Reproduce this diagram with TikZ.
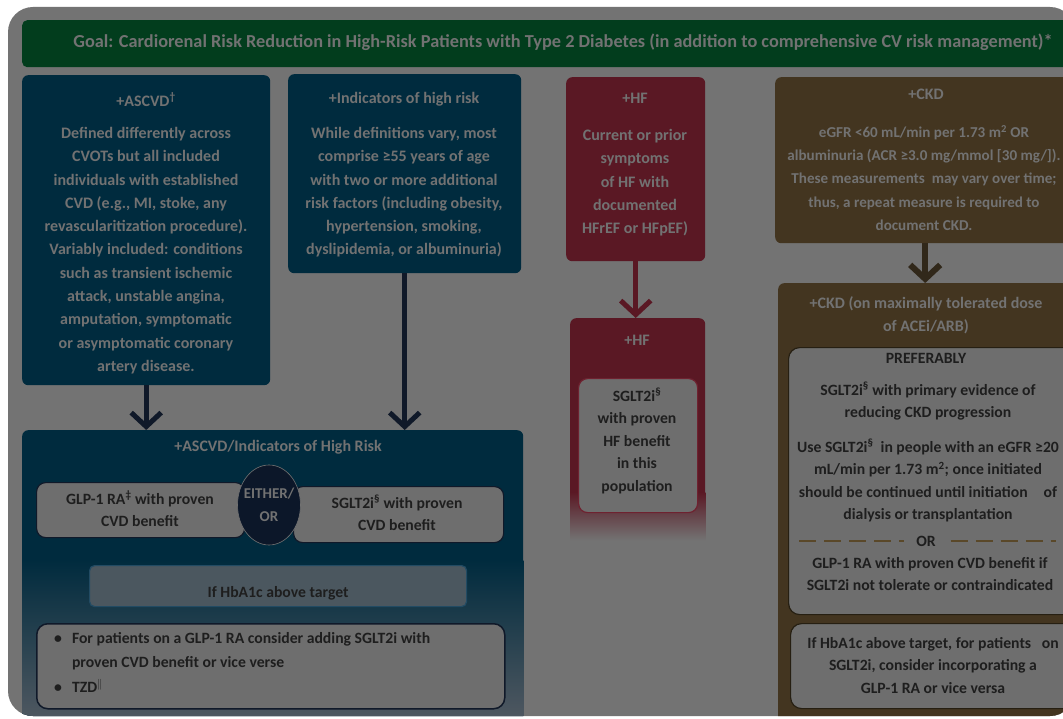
\documentclass[tikz,border=0pt]{standalone}
\usepackage{fontspec}
\setmainfont{Carlito}
\usetikzlibrary{arrows.meta,positioning,shapes.geometric}
\definecolor{panel}{HTML}{737373}
\definecolor{goal}{HTML}{023D1D}
\definecolor{navy}{HTML}{002B3E}
\definecolor{hfred}{HTML}{5A1824}
\definecolor{ckdbrown}{HTML}{433520}
\definecolor{dimtxt}{HTML}{727272}
\definecolor{darktxt}{HTML}{1E1E1E}
\definecolor{navyarrow}{HTML}{101929}
\definecolor{ckdarrow}{HTML}{31281A}
\definecolor{lightbox}{HTML}{6E6E6E}
\definecolor{hbabox}{HTML}{4B575F}
\definecolor{hbaline}{HTML}{224B63}
\definecolor{eitherfill}{HTML}{0C1729}
\definecolor{combobottom}{HTML}{4E5760}
\definecolor{hfline}{HTML}{6E2230}
\definecolor{ckdline}{HTML}{261F12}
\definecolor{ckddashc}{HTML}{5A4829}

\begin{document}
\begin{tikzpicture}[x=1pt,y=-1pt,
  bigbox/.style={rounded corners=6pt,inner sep=0pt,anchor=north west},
  innerbox/.style={rounded corners=9pt,fill=lightbox,inner sep=0pt,anchor=north west,line width=1.2pt},
  hdtxt/.style={text=dimtxt,font=\bfseries\fontsize{16}{23.3}\selectfont,align=center,inner sep=0pt,anchor=north},
  intxt/.style={text=darktxt,font=\bfseries\fontsize{15.7}{22.5}\selectfont,align=center,inner sep=0pt,anchor=north},
  fatarrow/.style={line width=5pt,-{Straight Barb[length=14pt,width=30pt]}},
  ckddash/.style={ckddashc,line width=2pt,dash pattern=on 17pt off 8pt}]

\fill[white] (0,0) rectangle (1063,719);
\useasboundingbox (0,0) rectangle (1063,719);
\fill[panel,rounded corners=25pt] (8,7) rectangle (1075,716);

\begin{scope}
\clip[rounded corners=25pt] (8,7) rectangle (1075,716);

\node[bigbox,fill=goal,minimum width=1060pt,minimum height=47pt,rounded corners=5pt] (goal) at (22,20) {};
\node[hdtxt,font=\bfseries\fontsize{18.3}{20}\selectfont] (goaltxt) at (563,34) {Goal: Cardiorenal Risk Reduction in High-Risk Patients with Type 2 Diabetes (in addition to comprehensive CV risk management)*};

\node[bigbox,fill=navy,minimum width=248pt,minimum height=310pt] (ascvd) at (22,75) {};
\node[hdtxt] (ascvdhd) at (146,92) {+ASCVD\textsuperscript{\dag}};
\node[hdtxt] (ascvdtxt) at (146,127) {Defined differently across\\CVOTs but all included\\individuals with established\\CVD (e.g., MI, stoke, any\\revascularitization procedure).\\Variably included: conditions\\such as transient ischemic\\attack, unstable angina,\\amputation, symptomatic\\or asymptomatic coronary\\artery disease.};

\node[bigbox,fill=navy,minimum width=233pt,minimum height=199pt] (risk) at (288,74) {};
\node[hdtxt] (riskhd) at (404,92) {+Indicators of high risk};
\node[hdtxt] (risktxt) at (404,127) {While definitions vary, most\\comprise ≥55 years of age\\with two or more additional\\risk factors (including obesity,\\hypertension, smoking,\\dyslipidemia, or albuminuria)};

\node[bigbox,fill=hfred,minimum width=139pt,minimum height=184pt] (hf) at (566,77) {};
\node[hdtxt] (hfhd) at (635,93) {+HF};
\node[hdtxt] (hftxt) at (635,129) {Current or prior\\symptoms\\of HF with\\documented\\HFrEF or HFpEF)};

\node[bigbox,fill=ckdbrown,minimum width=300pt,minimum height=166pt] (ckd) at (775,77) {};
\node[hdtxt] (ckdhd) at (926,89) {+CKD};
\node[hdtxt,font=\bfseries\fontsize{15.1}{23.3}\selectfont] (ckdtxt) at (924,125) {eGFR <60 mL/min per 1.73 m\textsuperscript{2} OR\\albuminuria (ACR ≥3.0 mg/mmol [30 mg/]).\\These measurements\ \ may vary over time;\\thus, a repeat measure is required to\\document CKD.};

\node[bigbox,fill=navy,minimum width=501pt,minimum height=300pt] (combo) at (22,430) {};
\shade[top color=navy,bottom color=combobottom] (combo.west |- 0,560) rectangle (combo.east |- 0,716);
\node[hdtxt] (combohd) at (278,440) {+ASCVD/Indicators of High Risk};
\node[innerbox,draw=navyarrow,minimum width=208pt,minimum height=55pt] (glp) at (36,482) {};
\node[intxt] (glptxt) at (140,491) {GLP-1 RA\textsuperscript{\ddag} with proven\\CVD benefit};
\node[innerbox,draw=navyarrow,minimum width=210pt,minimum height=56pt] (sglt) at (293,486) {};
\node[intxt] (sglttxt) at (397,495) {SGLT2i\textsuperscript{\S} with proven\\CVD benefit};
\node[ellipse,fill=eitherfill,draw=dimtxt,line width=.6pt,minimum width=63pt,minimum height=80pt,inner sep=0pt] (either) at (269,505) {};
\node[hdtxt,font=\bfseries\fontsize{15}{22.5}\selectfont] (eithertxt) at (269,488) {EITHER/\\OR};
\node[innerbox,fill=hbabox,draw=hbaline,rounded corners=5pt,minimum width=377pt,minimum height=41pt] (hba) at (89,565) {};
\node[intxt] (hbatxt) at (hba.center) {If HbA1c above target};
\node[innerbox,draw=navyarrow,line width=1.5pt,rounded corners=11pt,minimum width=468pt,minimum height=85pt] (addon) at (36,623) {};
\node[intxt,align=left,anchor=north west,font=\bfseries\fontsize{15.7}{24.5}\selectfont] (addontxt) at (54,632) {•\hspace{10pt}For patients on a GLP-1 RA consider adding SGLT2i with\\\phantom{•}\hspace{10pt}proven CVD benefit or vice verse\\•\hspace{10pt}TZD$^{\|}$};

\node[bigbox,fill=hfred,minimum width=135pt,minimum height=222pt] (hflow) at (570,318) {};
\shade[top color=hfred,bottom color=panel] (hflow.west |- 0,492) rectangle (hflow.south east);
\node[hdtxt] (hflowhd) at (637,335) {+HF};
\node[innerbox,draw=hfline,minimum width=119pt,minimum height=134pt] (hfdrug) at (578,378) {};
\node[intxt] (hfdrugtxt) at (637,388) {SGLT2i\textsuperscript{\S}\\with proven\\HF benefit\\in this\\population};

\node[bigbox,fill=ckdbrown,minimum width=300pt,minimum height=440pt] (ckdlow) at (778,283) {};
\node[hdtxt] (ckdlowhd) at (926,296) {+CKD (on maximally tolerated dose\\of ACEi/ARB)};
\node[innerbox,draw=ckdline,rounded corners=11pt,minimum width=290pt,minimum height=267pt] (pref) at (788,347) {};
\node[intxt] (preftxt) at (926,353) {PREFERABLY};
\node[intxt] (prefa) at (928,382) {SGLT2i\textsuperscript{\S} with primary evidence of\\reducing CKD progression};
\node[intxt] (prefb) at (928,439) {Use SGLT2i\textsuperscript{\S}\ \ in people with an eGFR ≥20\\mL/min per 1.73 m\textsuperscript{2}; once initiated\\should be continued until initiation\hspace{16pt}of\\dialysis or transplantation};
\node[intxt] (ortxt) at (926,536) {OR};
\node[intxt] (prefc) at (930,557) {GLP-1 RA with proven CVD benefit if\\SGLT2i not tolerate or contraindicated};
\draw[ckddash] (ortxt.west) ++(-117,0) -- ++(105,0);
\draw[ckddash] (ortxt.east) ++(15,0) -- ++(105,0);
\node[innerbox,draw=ckdline,rounded corners=11pt,minimum width=290pt,minimum height=85pt] (ckdadd) at (790,623) {};
\node[intxt] (ckdaddtxt) at (933,637) {If HbA1c above target, for patients\ \ \ on\\SGLT2i, consider incorporating a\\GLP-1 RA or vice versa};

\draw[fatarrow,navyarrow] (ascvd.south) -- (ascvd.south |- combo.north);
\draw[fatarrow,navyarrow] (risk.south) -- (risk.south |- combo.north);
\draw[fatarrow,hfred] (hf.south) -- (hf.south |- hflow.north);
\draw[fatarrow,ckdarrow,line width=6pt] (ckd.south) -- (ckd.south |- ckdlow.north);
\end{scope}
\end{tikzpicture}
\end{document}
